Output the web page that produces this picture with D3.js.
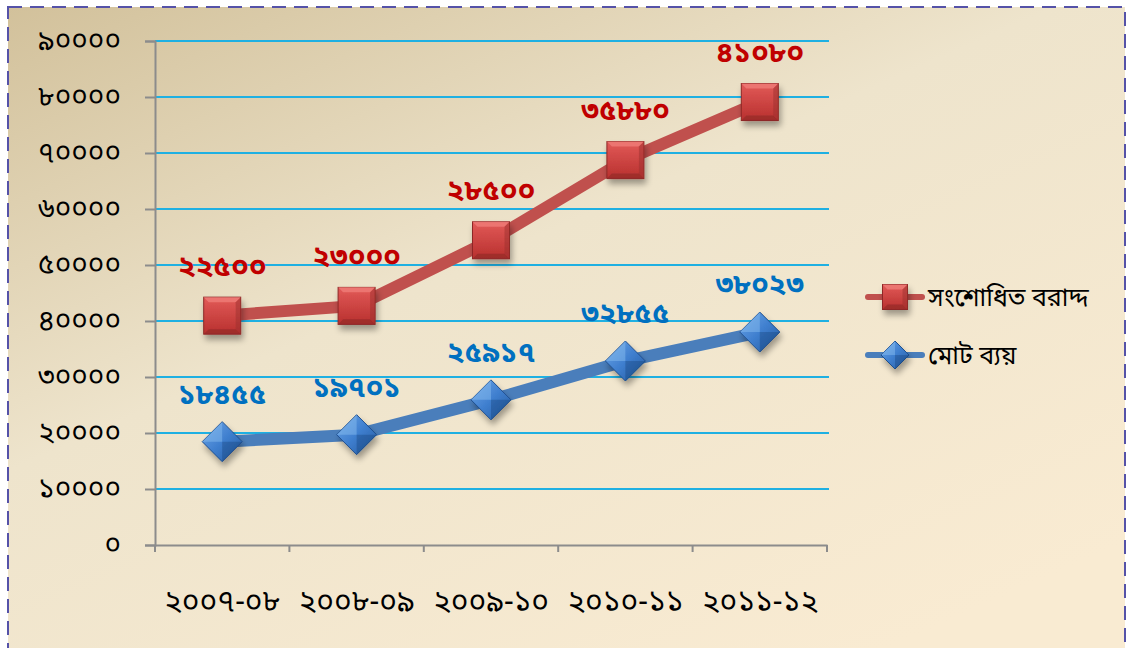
<!DOCTYPE html>
<html><head><meta charset="utf-8">
<script src="https://cdn.jsdelivr.net/npm/d3@7"></script>
<style>
html,body{margin:0;padding:0;background:#fff;}
svg{display:block;}
text{font-family:"Noto Sans Bengali","Noto Serif Bengali","Lohit Bengali","Noto Sans",sans-serif;}
</style></head>
<body>
<svg id="c" width="1129" height="648"></svg>
<script>
const categories = ["২০০৭-০৮","২০০৮-০৯","২০০৯-১০","২০১০-১১","২০১১-১২"];
const spent = [18455, 19701, 25917, 32855, 38023];          // মোট ব্যয়
const revised = [22500, 23000, 28500, 35880, 41080];        // সংশোধিত বরাদ্দ (stacked on top)
const spentLabels = ["১৮৪৫৫","১৯৭০১","২৫৯১৭","৩২৮৫৫","৩৮০২৩"];
const revisedLabels = ["২২৫০০","২৩০০০","২৮৫০০","৩৫৮৮০","৪১০৮০"];
const yTicks = [0,10000,20000,30000,40000,50000,60000,70000,80000,90000];
const yTickLabels = ["০","১০০০০","২০০০০","৩০০০০","৪০০০০","৫০০০০","৬০০০০","৭০০০০","৮০০০০","৯০০০০"];
const seriesNames = ["সংশোধিত বরাদ্দ","মোট ব্যয়"];

const svg = d3.select("#c");
const defs = svg.append("defs");

const bg = defs.append("linearGradient").attr("id","bg").attr("x1","0").attr("y1","0").attr("x2","0.75").attr("y2","1");
bg.append("stop").attr("offset","0").attr("stop-color","#d2c19b");
bg.append("stop").attr("offset","0.45").attr("stop-color","#eee4cc");
bg.append("stop").attr("offset","1").attr("stop-color","#f9ebd2");

const blur = defs.append("filter").attr("id","blur").attr("x","-10%").attr("y","-200%").attr("width","120%").attr("height","500%");
blur.append("feGaussianBlur").attr("stdDeviation","2.5");
const mshadow = defs.append("filter").attr("id","mshadow").attr("x","-50%").attr("y","-50%").attr("width","200%").attr("height","200%");
mshadow.append("feGaussianBlur").attr("in","SourceAlpha").attr("stdDeviation","3").attr("result","b");
mshadow.append("feOffset").attr("dx","2").attr("dy","5").attr("result","o");
mshadow.append("feComponentTransfer").append("feFuncA").attr("type","linear").attr("slope","0.35");
const mm = mshadow.append("feMerge"); mm.append("feMergeNode"); mm.append("feMergeNode").attr("in","SourceGraphic");

const rg = defs.append("linearGradient").attr("id","redg").attr("x1","0").attr("y1","0").attr("x2","0").attr("y2","1");
rg.append("stop").attr("offset","0").attr("stop-color","#e25a58");
rg.append("stop").attr("offset","1").attr("stop-color","#b8302e");
const bgr = defs.append("linearGradient").attr("id","blueg").attr("x1","0").attr("y1","0").attr("x2","1").attr("y2","1");
bgr.append("stop").attr("offset","0").attr("stop-color","#6ea6e6");
bgr.append("stop").attr("offset","0.5").attr("stop-color","#3f7fcf");
bgr.append("stop").attr("offset","1").attr("stop-color","#24599e");

// background + border
svg.append("rect").attr("x",8).attr("y",7).attr("width",1117).attr("height",660).attr("fill","url(#bg)");
svg.append("rect").attr("x",8).attr("y",7).attr("width",1117).attr("height",660)
  .attr("fill","none").attr("stroke","#5552a8").attr("stroke-width",2).attr("stroke-dasharray","14,8");

const x = d3.scaleBand().domain(categories).range([155,827]);
const y = d3.scaleLinear().domain([0,90000]).range([545,41]);

// grid shadows + grid lines
const grid = svg.append("g");
yTicks.filter(d=>d>0).forEach(t=>{
  grid.append("line").attr("x1",158).attr("x2",832).attr("y1",y(t)+6).attr("y2",y(t)+6)
    .attr("stroke","#8a7a58").attr("stroke-opacity",0.45).attr("stroke-width",4).attr("filter","url(#blur)");
  grid.append("line").attr("x1",155).attr("x2",829).attr("y1",y(t)).attr("y2",y(t))
    .attr("stroke","#1fb0e2").attr("stroke-width",2);
});

// axes
const yAxis = svg.append("g").attr("transform","translate(155,0)")
  .call(d3.axisLeft(y).tickValues(yTicks).tickSize(10).tickPadding(24).tickFormat((d,i)=>yTickLabels[i]));
const xAxis = svg.append("g").attr("transform","translate(0,545)")
  .call(d3.axisBottom(x).tickSize(0).tickPadding(45));
[yAxis,xAxis].forEach(a=>{
  a.select(".domain").attr("stroke","#8c8c8c").attr("stroke-width",2);
  a.selectAll(".tick line").attr("stroke","#8c8c8c").attr("stroke-width",2);
  a.selectAll("text").attr("fill","#000").attr("font-family",null);
});
yAxis.selectAll("text").attr("font-size",28);
xAxis.selectAll("text").attr("font-size",30);
// x category boundary ticks
const bounds = categories.map(c=>x(c)).concat([x(categories[categories.length-1])+x.bandwidth()]);
xAxis.selectAll(".bt").data(bounds).enter().append("line").attr("class","bt")
  .attr("x1",d=>d).attr("x2",d=>d).attr("y1",0).attr("y2",7).attr("stroke","#8c8c8c").attr("stroke-width",2);

const cx = c => x(c)+x.bandwidth()/2;
const topVals = revised.map((v,i)=>v+spent[i]);

const line = d3.line().x((d,i)=>cx(categories[i])).y(d=>y(d));

// lines
svg.append("path").datum(spent).attr("d",line).attr("fill","none").attr("stroke","#4a7ebb").attr("stroke-width",12).attr("stroke-linejoin","round");
svg.append("path").datum(topVals).attr("d",line).attr("fill","none").attr("stroke","#c0504d").attr("stroke-width",12).attr("stroke-linejoin","round");

function square(g, px, py, s){
  const m = g.append("g").attr("filter","url(#mshadow)");
  m.append("rect").attr("x",px-s/2).attr("y",py-s/2).attr("width",s).attr("height",s).attr("fill","url(#redg)").attr("stroke","#8e2826").attr("stroke-width",1);
  const b = 5;
  m.append("polygon").attr("points",`${px-s/2},${py-s/2} ${px+s/2},${py-s/2} ${px+s/2-b},${py-s/2+b} ${px-s/2+b},${py-s/2+b}`).attr("fill","#ef7c78").attr("opacity",0.8);
  m.append("polygon").attr("points",`${px-s/2},${py+s/2} ${px+s/2},${py+s/2} ${px+s/2-b},${py+s/2-b} ${px-s/2+b},${py+s/2-b}`).attr("fill","#8e2a28").attr("opacity",0.6);
  m.append("polygon").attr("points",`${px+s/2},${py-s/2} ${px+s/2},${py+s/2} ${px+s/2-b},${py+s/2-b} ${px+s/2-b},${py-s/2+b}`).attr("fill","#9c2f2d").attr("opacity",0.5);
}
function diamond(g, px, py, r){
  const m = g.append("g").attr("filter","url(#mshadow)");
  m.append("polygon").attr("points",`${px},${py-r} ${px+r},${py} ${px},${py+r} ${px-r},${py}`).attr("fill","url(#blueg)").attr("stroke","#1f4f8e").attr("stroke-width",1);
  m.append("polygon").attr("points",`${px},${py-r} ${px-r},${py} ${px},${py}`).attr("fill","#8cc0f2").attr("opacity",0.45);
  m.append("polygon").attr("points",`${px},${py+r} ${px+r},${py} ${px},${py}`).attr("fill","#153e75").attr("opacity",0.35);
}

const mk = svg.append("g");
spent.forEach((v,i)=>diamond(mk, cx(categories[i]), y(v), 20));
topVals.forEach((v,i)=>square(mk, cx(categories[i]), y(v), 37));

// data labels
svg.append("g").selectAll("text").data(revisedLabels).enter().append("text")
  .attr("x",(d,i)=>cx(categories[i])).attr("y",(d,i)=>y(topVals[i])-40)
  .attr("text-anchor","middle").attr("fill","#c00000").attr("font-size",29).attr("font-weight","bold").text(d=>d);
svg.append("g").selectAll("text").data(spentLabels).enter().append("text")
  .attr("x",(d,i)=>cx(categories[i])).attr("y",(d,i)=>y(spent[i])-38)
  .attr("text-anchor","middle").attr("fill","#0070c0").attr("font-size",29).attr("font-weight","bold").text(d=>d);

// legend
const lg = svg.append("g");
const legItems = [{name:seriesNames[0], color:"#c0504d", type:"sq", y:297},{name:seriesNames[1], color:"#4a7ebb", type:"di", y:355}];
legItems.forEach(it=>{
  lg.append("line").attr("x1",868).attr("x2",922).attr("y1",it.y).attr("y2",it.y).attr("stroke",it.color).attr("stroke-width",6).attr("stroke-linecap","round");
  if(it.type==="sq") square(lg, 895, it.y, 25); else diamond(lg, 895, it.y, 14);
  lg.append("text").attr("x",928).attr("y",it.y).attr("dy","0.35em").attr("font-size",25).attr("fill","#000").text(it.name);
});
</script>
</body></html>
